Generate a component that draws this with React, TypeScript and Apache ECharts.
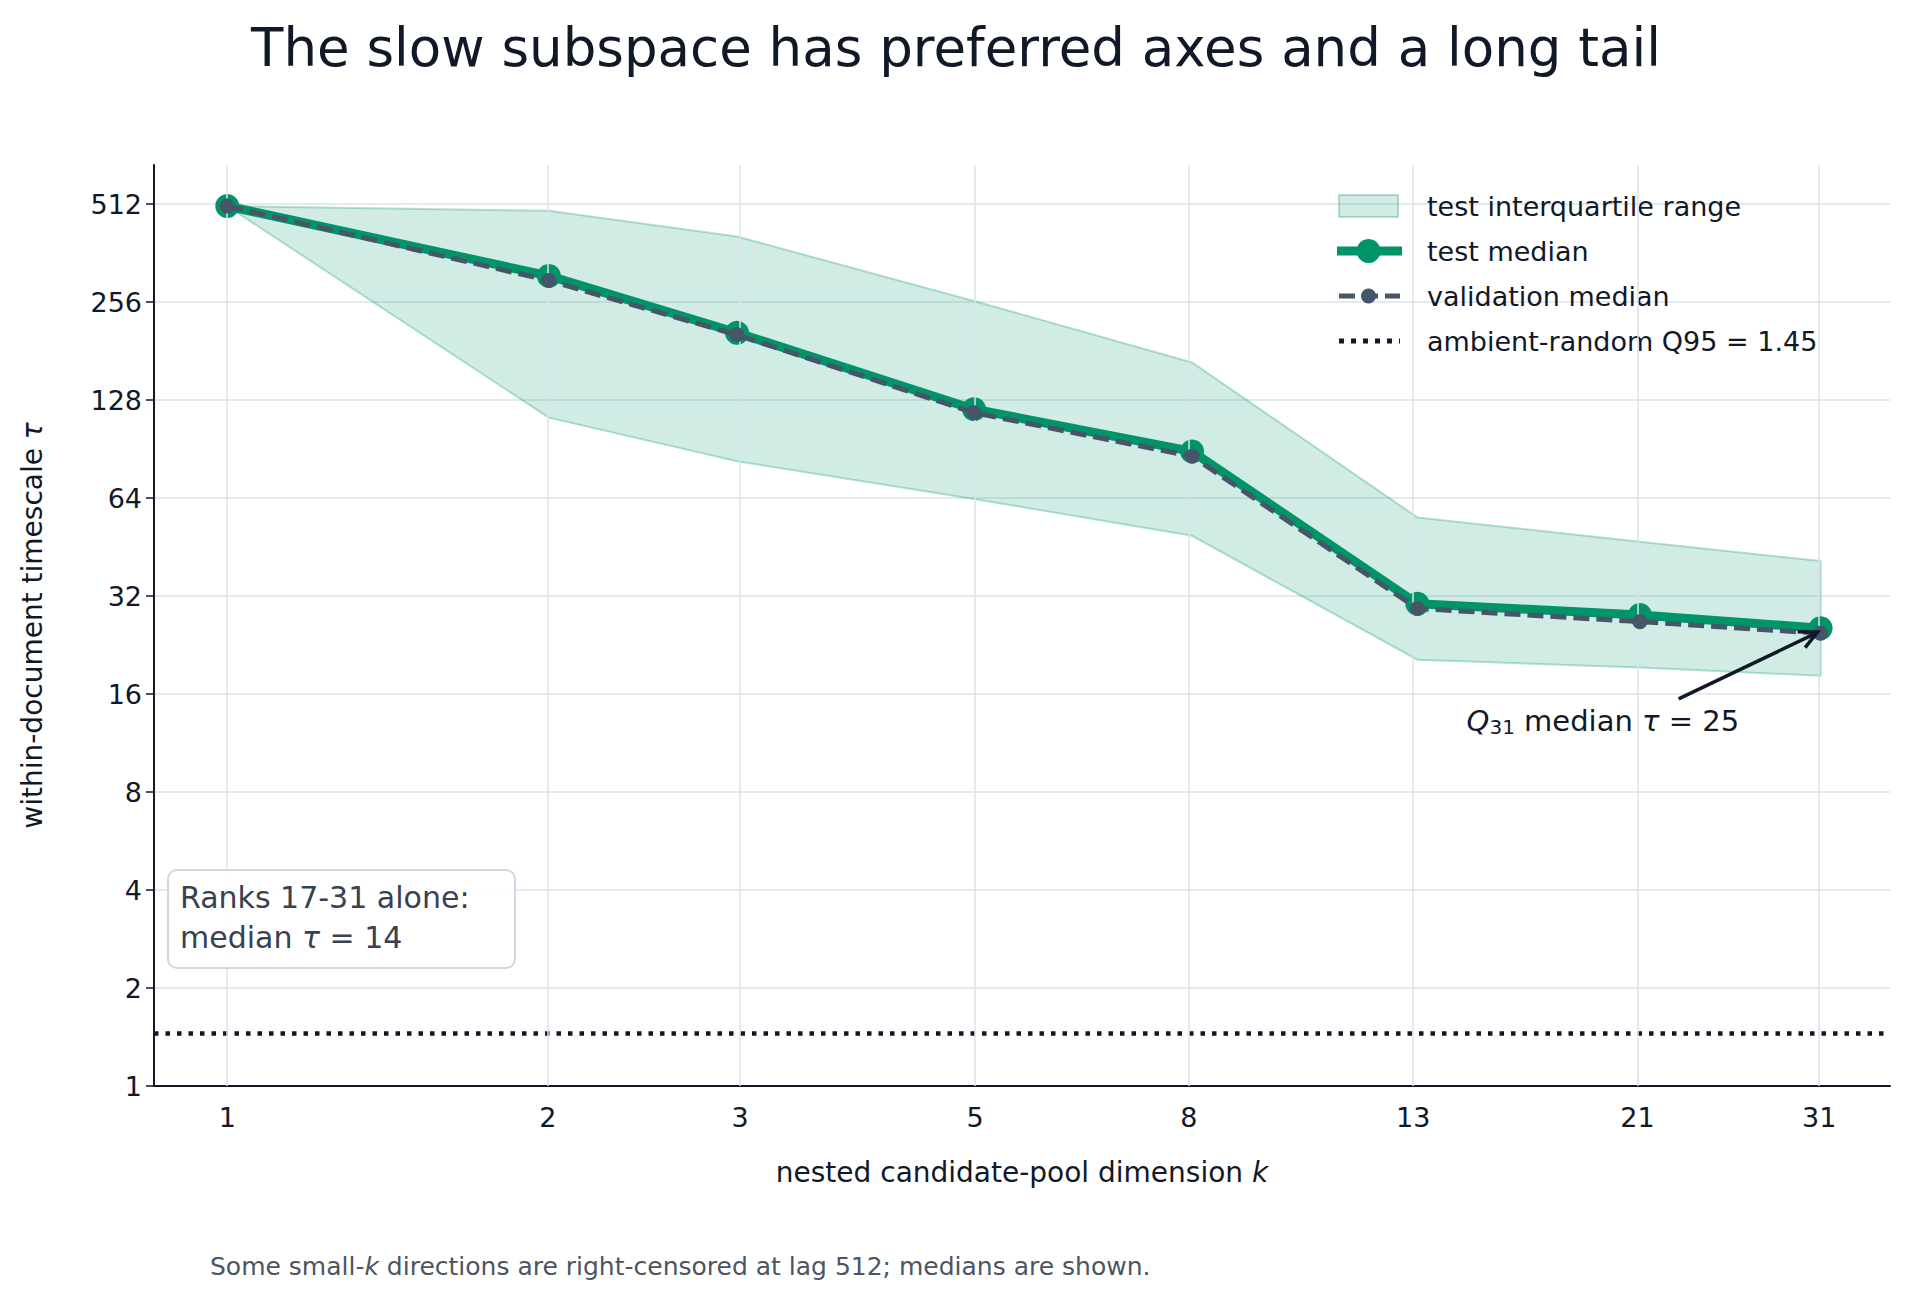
import React, { useEffect, useRef } from 'react'
import * as echarts from 'echarts'

const kValues = [1, 2, 3, 5, 8, 13, 21, 31]
const testMedian = [505, 308, 206, 120, 89, 30.3, 28, 25.5]
const validationMedian = [505, 298, 203, 117, 86, 29.3, 26.7, 24.6]
const iqrUpper = [505, 488, 407, 258, 167, 55.8, 47, 41]
const iqrLower = [505, 113, 83, 63.6, 49, 20.4, 19.3, 18.2]
const ambientQ95 = 1.45
const legendNames = ['test interquartile range', 'test median', 'validation median', 'ambient-random Q95 = 1.45']

const GREEN = '#009468'
const SLATE = '#475569'
const INK = '#111827'
const GRID = '#dde3ec'
const FONT = 'DejaVu Sans'
const BAND = 'rgba(0,148,104,0.18)'
const BAND_EDGE = 'rgba(0,148,104,0.28)'

const lx = (k: number) => Math.log10(k)
const ly = (v: number) => Math.log2(v)
const X_MIN = lx(0.854)
const X_MAX = lx(36)
const Y_MAX = ly(675)

// hand-built legend, matplotlib style
const legendGraphics = (): any[] => {
  const x0 = 1337
  const x1 = 1400
  const tx = 1427
  const rows = [206, 251, 296, 341]
  const out: any[] = []
  out.push({ type: 'rect', shape: { x: x0 + 2, y: rows[0] - 11, width: 59, height: 22 }, style: { fill: BAND, stroke: BAND_EDGE, lineWidth: 2 } })
  out.push({ type: 'line', shape: { x1: x0, y1: rows[1], x2: x1 + 2, y2: rows[1] }, style: { stroke: GREEN, lineWidth: 9 } })
  out.push({ type: 'circle', shape: { cx: (x0 + x1) / 2, cy: rows[1], r: 12 }, style: { fill: GREEN } })
  out.push({ type: 'line', shape: { x1: x0 + 2, y1: rows[2], x2: x1, y2: rows[2] }, style: { stroke: SLATE, lineWidth: 5, lineDash: [16, 7] } })
  out.push({ type: 'circle', shape: { cx: (x0 + x1) / 2, cy: rows[2], r: 7.5 }, style: { fill: SLATE } })
  out.push({ type: 'line', shape: { x1: x0 + 2, y1: rows[3], x2: x1, y2: rows[3] }, style: { stroke: INK, lineWidth: 5, lineDash: [5, 7] } })
  legendNames.forEach((n, i) => {
    out.push({ type: 'text', x: tx, y: rows[i], style: { text: n, fontSize: 27, fill: INK, fontFamily: FONT, verticalAlign: 'middle' } })
  })
  return out
}

const App: React.FC = () => {
  const ref = useRef<HTMLDivElement>(null)

  useEffect(() => {
    document.body.style.margin = '0'
    if (!ref.current) return
    const chart = echarts.init(ref.current, undefined, { renderer: 'svg' })

    const option: echarts.EChartsOption = {
      animation: false,
      backgroundColor: '#ffffff',
      textStyle: { fontFamily: FONT },
      title: {
        text: 'The slow subspace has preferred axes and a long tail',
        left: 'center',
        top: 16,
        textStyle: { fontFamily: FONT, fontSize: 53, fontWeight: 'normal', color: INK },
      },
      grid: { left: 154, right: 22, top: 165, bottom: 210 },
      xAxis: {
        type: 'value',
        min: X_MIN,
        max: X_MAX,
        axisLabel: { show: false },
        axisTick: { show: false },
        splitLine: { show: false },
        axisLine: { onZero: false, lineStyle: { color: INK, width: 2 } },
        name: 'nested candidate-pool dimension {i|k}',
        nameLocation: 'middle',
        nameGap: 72,
        nameTextStyle: {
          fontSize: 28, color: INK, fontFamily: FONT,
          rich: { i: { fontStyle: 'italic', fontSize: 28, color: INK, fontFamily: FONT } },
        },
      },
      yAxis: {
        type: 'value',
        min: 0,
        max: Y_MAX,
        interval: 1,
        axisLine: { show: true, onZero: false, lineStyle: { color: INK, width: 2 } },
        axisTick: { show: true, length: 8, lineStyle: { color: INK, width: 1.5 } },
        axisLabel: {
          fontSize: 27, color: INK, fontFamily: FONT, margin: 12,
          showMaxLabel: false,
          formatter: (v: number) => (Number.isInteger(v) ? String(2 ** v) : ''),
        },
        splitLine: { showMaxLine: false, lineStyle: { color: GRID, width: 1.5 } } as any,
        name: 'within-document timescale {i|τ}',
        nameLocation: 'middle',
        nameGap: 108,
        nameTextStyle: {
          fontSize: 28, color: INK, fontFamily: FONT,
          rich: { i: { fontStyle: 'italic', fontSize: 28, color: INK, fontFamily: FONT } },
        },
      },
      series: [
        {
          name: 'x ticks',
          type: 'line',
          data: [],
          silent: true,
          markLine: {
            silent: true,
            symbol: 'none',
            lineStyle: { color: GRID, width: 1.5, type: 'solid' },
            label: { position: 'start', distance: 18, fontSize: 27, color: INK, fontFamily: FONT, formatter: '{b}' },
            data: kValues.map((k) => ({ name: String(k), xAxis: lx(k) })),
          },
        },
        {
          name: 'test interquartile range',
          type: 'custom',
          z: 1,
          data: [0],
          renderItem: (_params: any, api: any) => {
            const top = kValues.map((k, i) => api.coord([lx(k), ly(iqrUpper[i])]))
            const bottom = kValues.map((k, i) => api.coord([lx(k), ly(iqrLower[i])])).reverse()
            return {
              type: 'polygon',
              shape: { points: top.concat(bottom) },
              style: { fill: BAND, stroke: BAND_EDGE, lineWidth: 2 },
            }
          },
        },
        {
          name: 'ambient-random Q95 = 1.45',
          type: 'line',
          z: 3,
          symbol: 'none',
          data: [[X_MIN, ly(ambientQ95)], [X_MAX, ly(ambientQ95)]],
          lineStyle: { color: INK, width: 4.5, type: [4.5, 7] },
        },
        {
          name: 'test median',
          type: 'line',
          z: 4,
          symbol: 'circle',
          symbolSize: 24,
          data: kValues.map((k, i) => [lx(k), ly(testMedian[i])]),
          lineStyle: { color: GREEN, width: 9 },
          itemStyle: { color: GREEN },
        },
        {
          name: 'validation median',
          type: 'line',
          z: 5,
          symbol: 'circle',
          symbolSize: 15,
          data: kValues.map((k, i) => [lx(k), ly(validationMedian[i])]),
          lineStyle: { color: SLATE, width: 5, type: [16, 7] },
          itemStyle: { color: SLATE },
        },
      ],
    }
    chart.setOption(option)

    const [px, py] = chart.convertToPixel({ gridIndex: 0 }, [lx(31), ly(25)]) as number[]
    const tx = px - 142
    const ty = py + 68
    const ang = Math.atan2(py - ty, px - tx)
    const head = (a: number) => [px - 3 - 20 * Math.cos(ang + a), py + 1 - 20 * Math.sin(ang + a)]

    chart.setOption({
      graphic: [
        ...legendGraphics(),
        { type: 'line', z: 10, shape: { x1: tx, y1: ty, x2: px - 4, y2: py + 2 }, style: { stroke: INK, lineWidth: 3.5 } },
        { type: 'polyline', z: 10, shape: { points: [head(0.45), [px - 3, py + 1], head(-0.45)] }, style: { stroke: INK, lineWidth: 3.5, fill: 'none' } },
        {
          type: 'text', z: 10, x: tx - 212, y: ty + 6,
          style: {
            text: '{i|Q}{s|31} median {i|τ} = 25',
            fontSize: 29, fill: INK, fontFamily: FONT,
            rich: {
              i: { fontStyle: 'italic', fontSize: 29, fontFamily: FONT, fill: INK },
              s: { fontSize: 20, fontFamily: FONT, fill: INK, padding: [12, 0, 0, 0] },
            },
          },
        },
        {
          type: 'rect', z: 10, shape: { x: 168, y: 870, width: 347, height: 98, r: 9 },
          style: { fill: 'rgba(255,255,255,0.9)', stroke: '#cfd8e3', lineWidth: 2 },
        },
        {
          type: 'text', z: 11, x: 180, y: 877,
          style: {
            text: 'Ranks 17-31 alone:\nmedian {i|τ} = 14',
            fontSize: 30, lineHeight: 40, fill: '#374151', fontFamily: FONT,
            rich: { i: { fontStyle: 'italic', fontSize: 30, fill: '#374151', fontFamily: FONT } },
          },
        },
        {
          type: 'text', left: 210, top: 1254,
          style: {
            text: 'Some small-{i|k} directions are right-censored at lag 512; medians are shown.',
            fontSize: 25, fill: '#4b5563', fontFamily: FONT,
            rich: { i: { fontStyle: 'italic', fontSize: 25, fill: '#4b5563', fontFamily: FONT } },
          },
        },
      ],
    })

    return () => chart.dispose()
  }, [])

  return <div ref={ref} style={{ width: 1912, height: 1296 }} />
}

export default App
